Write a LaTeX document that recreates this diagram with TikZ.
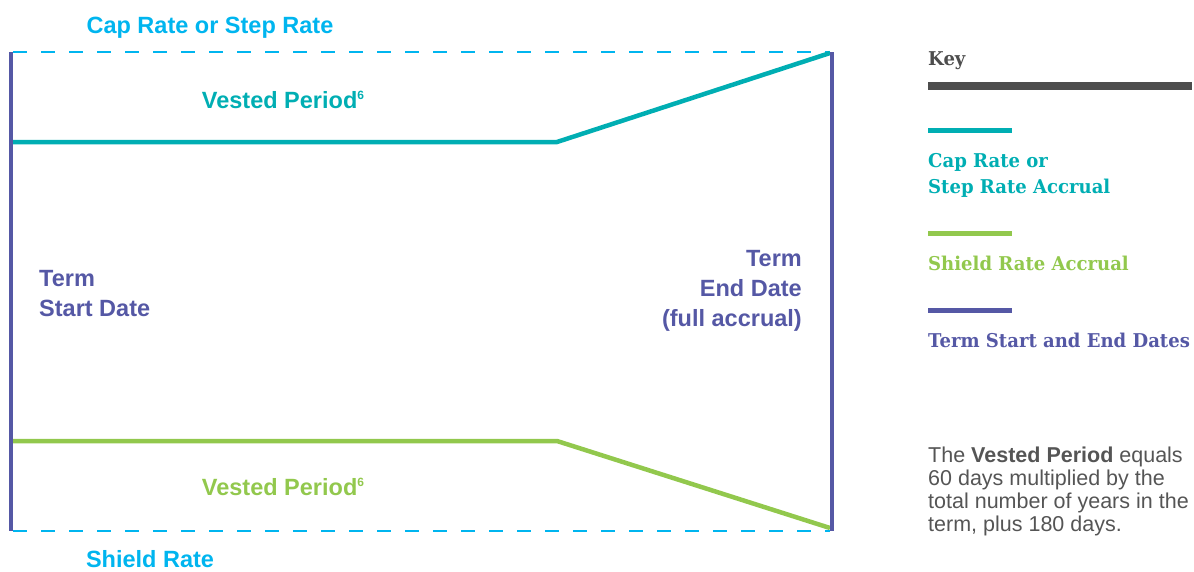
\documentclass[tikz,border=0pt]{standalone}
\usepackage{fontspec}
\setmainfont{Liberation Sans}
\newfontfamily\keyfont[FakeStretch=0.95]{DejaVu Serif}
\definecolor{sky}{HTML}{00B5EF}
\definecolor{teal}{HTML}{00AEB3}
\definecolor{lime}{HTML}{92C84D}
\definecolor{violet}{HTML}{5558A5}
\definecolor{darkg}{HTML}{4D4D4D}
\definecolor{textg}{HTML}{555555}
\newcommand{\sixnote}{\raisebox{8.3pt}{\fontsize{12}{12}\selectfont 6}}
\tikzset{
  lbl/.style={inner sep=0pt, font=\bfseries\fontsize{23.5}{30}\selectfont},
  keytxt/.style={inner sep=0pt, font=\keyfont\bfseries\fontsize{19}{26}\selectfont, align=left},
  dashline/.style={sky, line width=2.5pt, dash pattern=on 14pt off 14pt},
  bar/.style={line width=5pt},
}
\begin{document}
\begin{tikzpicture}[x=1pt,y=-1pt]
\useasboundingbox (0,0) rectangle (1194,571);
% frame coordinates
\coordinate (tl) at (11,52);
\coordinate (tr) at (832,52);
\coordinate (bl) at (11,531);
\coordinate (br) at (832,531);
\coordinate (tk) at (557,142);
\coordinate (tkl) at (13,142);
\coordinate (gk) at (557,441);
\coordinate (gkl) at (13,441);
% dashed rate lines
\draw[dashline] (13,52) -- (830,52);
\draw[dashline] (13,531) -- (830,531);
% accrual lines
\draw[teal, line width=4.5pt] (tkl) -- (tk) -- (830,53);
\draw[lime, line width=4.5pt] (gkl) -- (gk) -- (830,528);
% term lines
\draw[violet, line width=4.5pt] (tl) -- (bl);
\draw[violet, line width=4.5pt] (tr) -- (br);
% labels
\node[lbl, sky, anchor=base] (cap) at (210,33) {Cap Rate or Step Rate};
\node[lbl, teal, anchor=base] (vt) at (283,108) {Vested Period\sixnote};
\node[lbl, violet, anchor=base west, align=left] (start) at (39,316) {Term\\Start Date};
\node[lbl, violet, anchor=base east, align=right] (end) at (802,326) {Term\\End Date\\(full accrual)};
\node[lbl, lime, anchor=base] (vg) at (283,495) {Vested Period\sixnote};
\node[lbl, sky, anchor=base] (shield) at (150,567) {Shield Rate};
% key
\node[keytxt, darkg, anchor=base west] (key) at (928,65) {Key};
\draw[darkg, line width=8pt] (928,86) -- (1192,86);
\draw[teal, bar] (928,130.5) -- (1012,130.5);
\node[keytxt, teal, anchor=base west] (k1) at (928,193) {Cap Rate or\\Step Rate Accrual};
\draw[lime, bar] (928,233.5) -- (1012,233.5);
\node[keytxt, lime, anchor=base west] (k2) at (928,270) {Shield Rate Accrual};
\draw[violet, bar] (928,310.5) -- (1012,310.5);
\node[keytxt, violet, anchor=base west] (k3) at (928,347) {Term Start and End Dates};
% note
\node[inner sep=0pt, anchor=base west, align=left, textg, font=\fontsize{21.5}{23}\selectfont] (note) at (928,531)
  {The \textbf{Vested Period} equals\\60 days multiplied by the\\total number of years in the\\term, plus 180 days.};
\end{tikzpicture}
\end{document}
